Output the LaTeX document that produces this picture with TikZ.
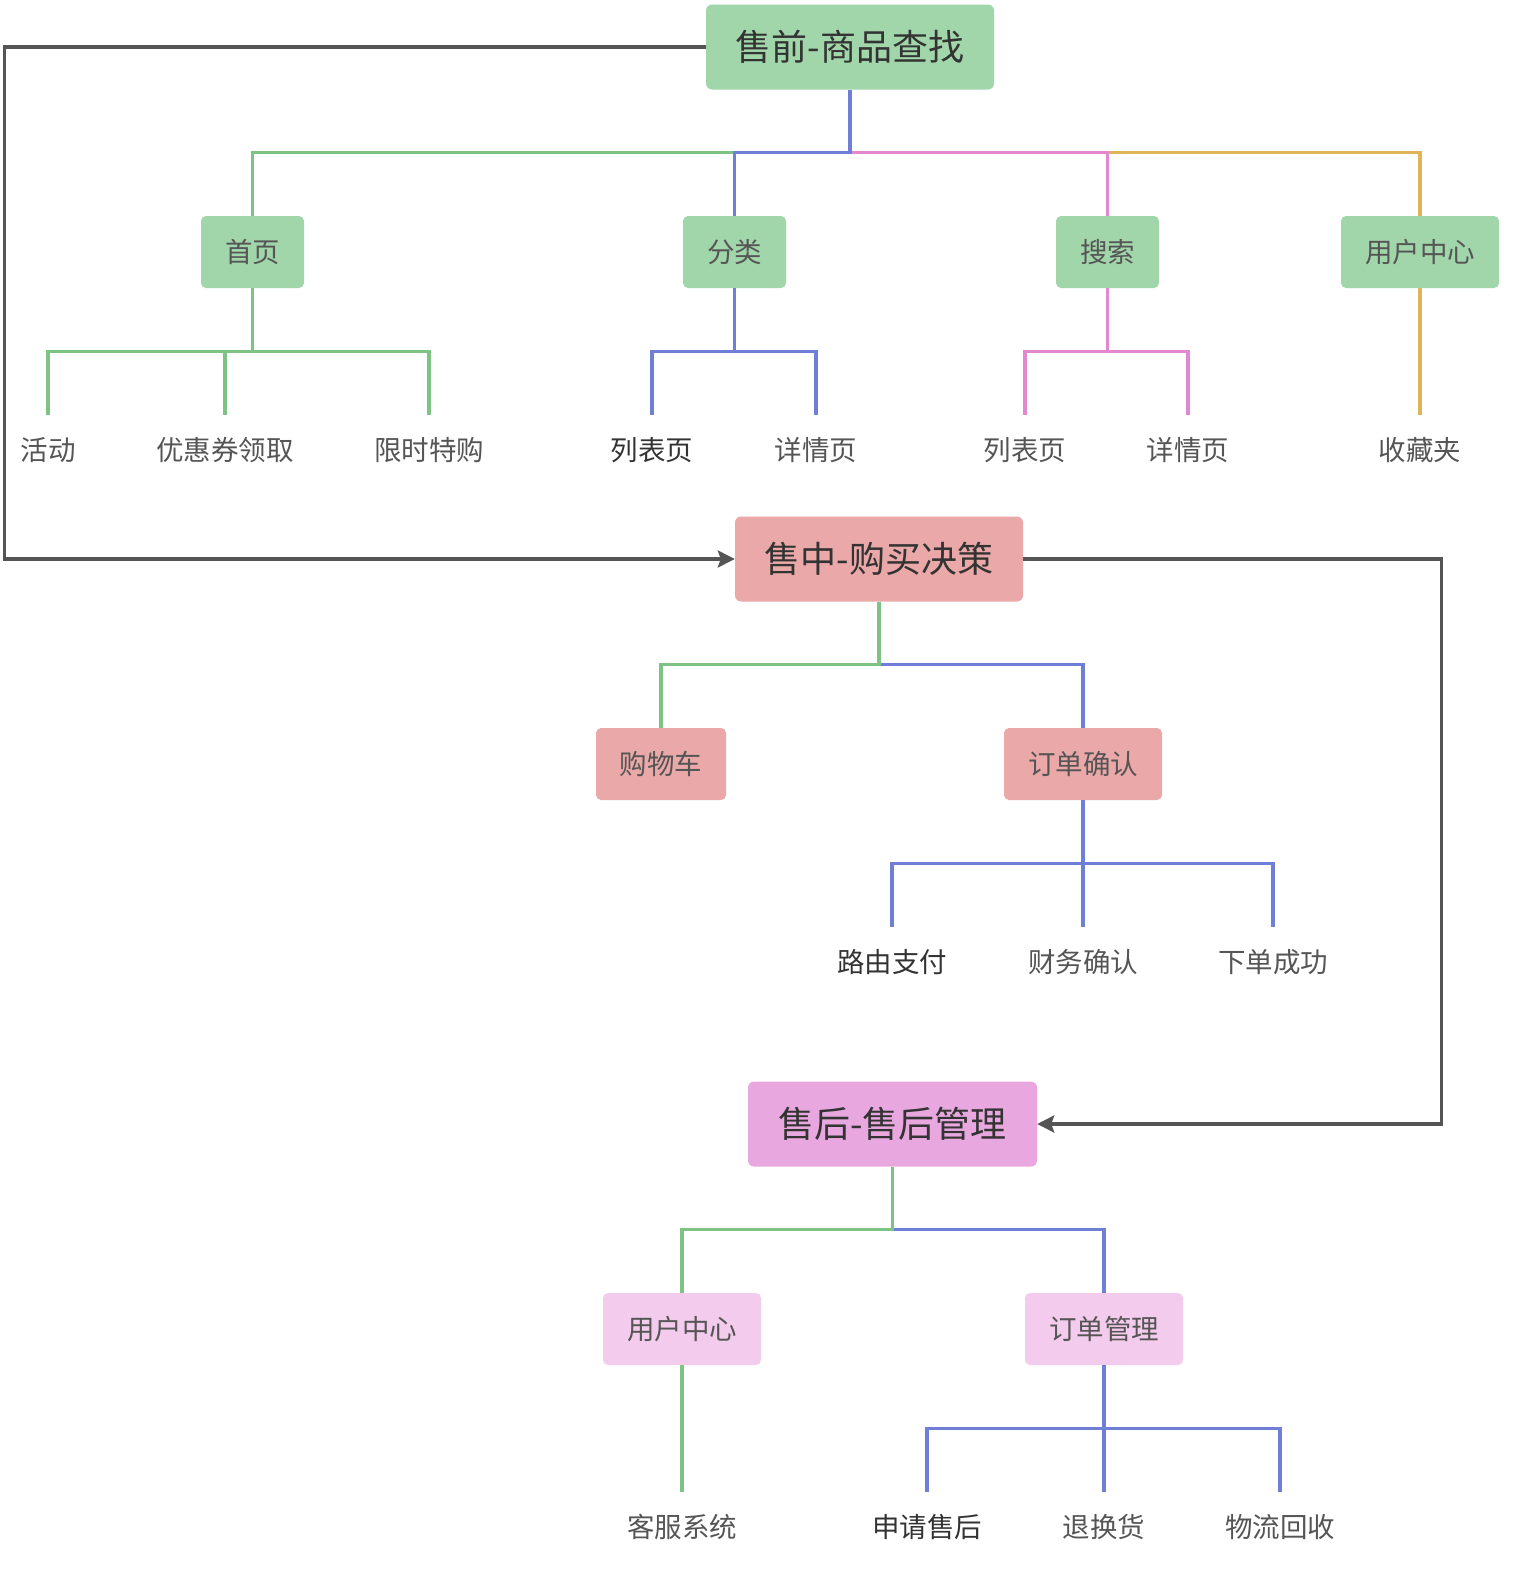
\documentclass[tikz,border=0pt]{standalone}
\usepackage{fontspec}
\setmainfont{Noto Sans CJK SC}
\usetikzlibrary{arrows.meta}
\definecolor{gfill}{HTML}{A1D6AA}
\definecolor{rfill}{HTML}{EAA8A8}
\definecolor{mfill}{HTML}{E8A8DF}
\definecolor{pfill}{HTML}{F3CBEC}
\definecolor{gline}{HTML}{7DC383}
\definecolor{bline}{HTML}{6F7FD8}
\definecolor{pline}{HTML}{E388D0}
\definecolor{oline}{HTML}{E0B458}
\definecolor{arrowc}{HTML}{555555}
\definecolor{txtdark}{HTML}{333333}
\definecolor{txtgrey}{HTML}{555555}
\tikzset{
  mainbox/.style={rounded corners=6pt, minimum width=288pt, minimum height=85pt,
    inner sep=0pt, font=\fontsize{36}{42}\selectfont, text=txtdark},
  subbox/.style={rounded corners=5pt, minimum height=72pt, inner sep=0pt,
    font=\fontsize{27.5}{32}\selectfont, text=txtgrey},
  leaf/.style={minimum height=70pt, inner sep=0pt, font=\fontsize{27.5}{32}\selectfont, text=txtgrey},
  leafdark/.style={leaf, text=txtdark},
  tl/.style={line width=3.2pt},
  flow/.style={line width=3.2pt, draw=arrowc, -{Stealth[length=17pt,width=17pt,inset=3pt]}},
}
\begin{document}
\begin{tikzpicture}[x=1pt,y=-1pt]
\useasboundingbox (0,0) rectangle (1524,1590);
% main nodes
\node[mainbox, fill=gfill] (pre) at (850,47) {售前-商品查找};
\node[mainbox, fill=rfill] (mid) at (879,559) {售中-购买决策};
\node[mainbox, fill=mfill, minimum width=289pt] (post) at (892.5,1124) {售后-售后管理};
% level 2 (pre)
\node[subbox, fill=gfill, minimum width=103pt] (home) at (252.5,252) {首页};
\node[subbox, fill=gfill, minimum width=103pt] (cat) at (734.5,252) {分类};
\node[subbox, fill=gfill, minimum width=103pt] (search) at (1107.5,252) {搜索};
\node[subbox, fill=gfill, minimum width=158pt] (ucenter) at (1420,252) {用户中心};
% leaves (pre)
\node[leaf] (act) at (48,450) {活动};
\node[leaf] (coupon) at (225,450) {优惠券领取};
\node[leaf] (flash) at (429,450) {限时特购};
\node[leafdark] (clist) at (652,450) {列表页};
\node[leaf] (cdetail) at (816,450) {详情页};
\node[leaf] (slist) at (1025,450) {列表页};
\node[leaf] (sdetail) at (1188,450) {详情页};
\node[leaf] (fav) at (1420,450) {收藏夹};
% level 2 (mid)
\node[subbox, fill=rfill, minimum width=130pt] (cart) at (661,764) {购物车};
\node[subbox, fill=rfill, minimum width=158pt] (confirm) at (1083,764) {订单确认};
\node[leafdark] (route) at (892,962) {路由支付};
\node[leaf] (finance) at (1083,962) {财务确认};
\node[leaf] (done) at (1273,962) {下单成功};
% level 2 (post)
\node[subbox, fill=pfill, minimum width=158pt] (pucenter) at (682,1329) {用户中心};
\node[subbox, fill=pfill, minimum width=158pt] (order) at (1104,1329) {订单管理};
\node[leaf] (service) at (682,1527) {客服系统};
\node[leafdark] (apply) at (927,1527) {申请售后};
\node[leaf] (exchange) at (1104,1527) {退换货};
\node[leaf] (logistics) at (1280,1527) {物流回收};
% tree lines: pre
\draw[tl, oline] (pre.south) -- ++(0,63) -| (ucenter.north);
\draw[tl, pline] (pre.south) -- ++(0,63) -| (search.north);
\draw[tl, gline] (pre.south) -- ++(0,63) -| (home.north);
\draw[tl, bline] (pre.south) -- ++(0,63) -| (cat.north);
\foreach \c in {act,coupon,flash}
  \draw[tl, gline] (home.south) -- ++(0,63) -| (\c.north);
\foreach \c in {clist,cdetail}
  \draw[tl, bline] (cat.south) -- ++(0,63) -| (\c.north);
\foreach \c in {slist,sdetail}
  \draw[tl, pline] (search.south) -- ++(0,63) -| (\c.north);
\draw[tl, oline] (ucenter.south) -- (fav.north);
% tree lines: mid
\draw[tl, bline] (mid.south) -- ++(0,63) -| (confirm.north);
\draw[tl, gline] (mid.south) -- ++(0,63) -| (cart.north);
\foreach \c in {route,finance,done}
  \draw[tl, bline] (confirm.south) -- ++(0,63) -| (\c.north);
% tree lines: post
\draw[tl, bline] (post.south) -- ++(0,63) -| (order.north);
\draw[tl, gline] (post.south) -- ++(0,63) -| (pucenter.north);
\draw[tl, gline] (pucenter.south) -- (service.north);
\foreach \c in {apply,exchange,logistics}
  \draw[tl, bline] (order.south) -- ++(0,63) -| (\c.north);
% flow arrows
\draw[flow] (pre.west) -- ++(-701,0) |- (mid.west);
\draw[flow] (mid.east) -- ++(418,0) |- (post.east);
\end{tikzpicture}
\end{document}
